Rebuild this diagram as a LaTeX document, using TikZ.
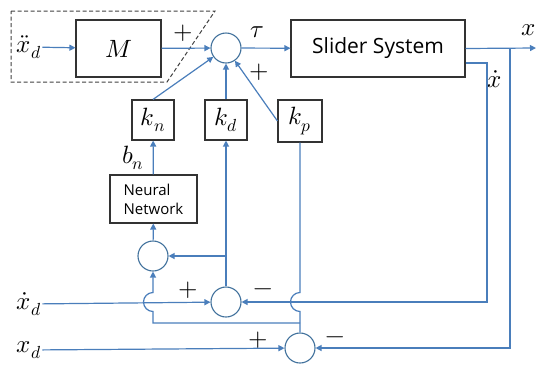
\documentclass[tikz,border=0pt]{standalone}
\usepackage{fontspec}
\usepackage{unicode-math}
\setsansfont{Open Sans}
\usetikzlibrary{arrows.meta}
\definecolor{sigblue}{RGB}{74,126,187}
\definecolor{sumblue}{RGB}{65,113,156}
\begin{document}
\begin{tikzpicture}[x=1pt,y=-1pt,
  blk/.style={draw=black!80,line width=1.1pt,inner sep=0pt,font=\fontsize{25}{29}\selectfont},
  sumc/.style={circle,draw=sumblue,line width=1.1pt,minimum size=30pt,inner sep=0pt},
  sig/.style={draw=sigblue,line width=1.2pt},
  sigarr/.style={-{Triangle[length=6pt,width=6pt]}},
  lbl/.style={inner sep=1pt,font=\fontsize{25}{29}\selectfont}]
\useasboundingbox (0,0) rectangle (536,365);
\draw[black!75,line width=1pt,dash pattern=on 4pt off 2.5pt] (11,11) -- (215,11) -- (167,82) -- (11,82) -- cycle;
\node[lbl] (xdd) at (29,47) {$\ddot{x}_d$};
\node[blk,minimum width=85,minimum height=57] (M) at (118.5,48.5) {$M$};
\node[sumc] (s1) at (226,48) {};
\node[blk,minimum width=174,minimum height=57,font=\sffamily\fontsize{21}{25}\selectfont] (sys) at (378,48.5) {Slider System};
\node[blk,minimum width=42,minimum height=40] (kn) at (153,120) {$k_n$};
\node[blk,minimum width=42,minimum height=40] (kd) at (226,120) {$k_d$};
\node[blk,minimum width=44,minimum height=42] (kp) at (300,121) {$k_p$};
\node[blk,minimum width=87,minimum height=48,align=left,font=\sffamily\fontsize{15}{19}\selectfont] (nn) at (153.5,199) {Neural\\Network};
\node[sumc] (s0) at (153,256) {};
\node[sumc] (s2) at (226,302) {};
\node[sumc] (s3) at (300,348) {};
\node[lbl] (xd1) at (29,304) {$\dot{x}_d$};
\node[lbl] (xd0) at (29,350) {$x_d$};
\node[lbl] (pm) at (183,33) {$+$};
\node[lbl] (tau) at (257,32) {$\tau$};
\node[lbl] (pkp) at (259,72) {$+$};
\node[lbl] (bn) at (133,158) {$b_n$};
\node[lbl] (xo) at (529,30) {$x$};
\node[lbl] (xv) at (495,79) {$\dot{x}$};
\node[lbl] (p2) at (188,290) {$+$};
\node[lbl] (m2) at (263,292) {$-$};
\node[lbl] (p3) at (258,340) {$+$};
\node[lbl] (m3) at (335,340) {$-$};
\coordinate (xout) at (536,48);
\coordinate (bx) at (510,48);
\coordinate (bv) at (487,302);
\coordinate (bd) at (226,256);
\coordinate (bp) at (300,323);
\coordinate (hp) at (300,311.5);
\coordinate (hn) at (153,311.5);
\draw[sig,sigarr] (xdd) -- (M);
\draw[sig,sigarr] (M) -- (s1);
\draw[sig,sigarr] (s1) -- (sys);
\draw[sig,sigarr] (sys.east) -- (xout);
\draw[sig,sigarr] (bx) |- (s3);
\draw[sig,sigarr] ([yshift=-14.5pt]sys.east) -| (bv) -- (s2);
\draw[sig,sigarr] (kn.north) -- (s1);
\draw[sig,sigarr] (kd) -- (s1);
\draw[sig,sigarr] (kp.west) -- (s1);
\draw[sig,sigarr] (nn) -- (kn);
\draw[sig,sigarr] (s0) -- (nn);
\draw[sig,sigarr] (s2) -- (kd);
\draw[sig,sigarr] (bd) -- (s0);
\draw[sig,sigarr] (xd1) -- (s2);
\draw[sig,sigarr] (xd0) -- (s3);
\draw[sig] (s3) -- (hp) arc[start angle=270,end angle=90,radius=9.5pt] -- (kp);
\draw[sig,sigarr] (bp) -| (hn) arc[start angle=270,end angle=90,radius=9.5pt] -- (s0);
\end{tikzpicture}
\end{document}
